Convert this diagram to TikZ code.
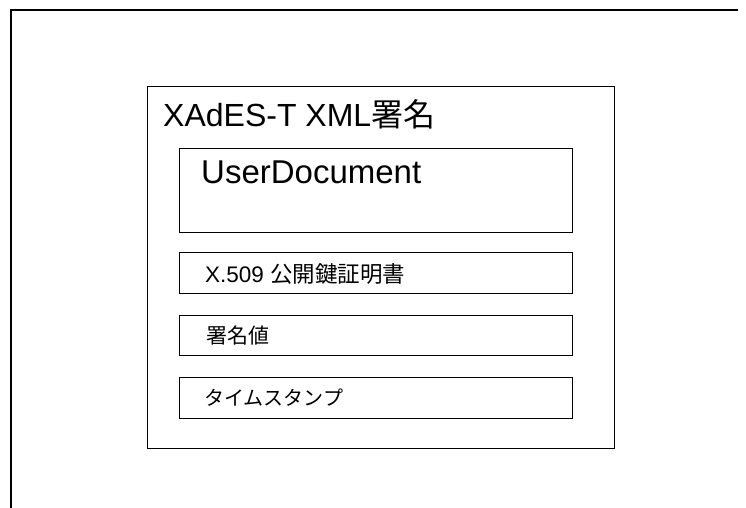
\documentclass[tikz,border=0pt]{standalone}
\usepackage{fontspec}
\setmainfont{Liberation Sans}
\newfontfamily\jp{Noto Sans CJK JP}
\begin{document}
\begin{tikzpicture}[x=1pt,y=-1pt,
  frame/.style={draw=black, line width=1.2pt},
  inbox/.style={draw=black, line width=1.1pt, anchor=north west, inner sep=0pt},
  lbl/.style={anchor=base west, inner sep=0pt},
  small/.style={lbl, font=\fontsize{21}{24}\selectfont}]
\useasboundingbox (0,0) rectangle (746,508);
% outer partial frame
\coordinate (o1) at (11,508);
\coordinate (o2) at (11,10);
\coordinate (o3) at (738,10);
\draw[frame] (o1) -- (o2) -- (o3);
% main box
\node[inbox, line width=1.2pt, minimum width=467pt, minimum height=362pt] (main) at (147,86) {};
\node[lbl, font=\fontsize{32}{36}\selectfont] (title) at (163,126) {XAdES-T XML{\jp 署名}};
% inner boxes
\node[inbox, minimum width=393pt, minimum height=84pt] (ud) at (179,148) {};
\node[lbl, font=\fontsize{33}{38}\selectfont] (udt) at (201,183) {UserDocument};
\node[inbox, minimum width=393pt, minimum height=41pt] (cert) at (179,252) {};
\node[small, font=\fontsize{22.5}{26}\selectfont] (certt) at (205,282) {X.509 {\jp 公開鍵証明書}};
\node[inbox, minimum width=393pt, minimum height=40pt] (sig) at (179,315) {};
\node[small] (sigt) at (206,343) {\jp 署名値};
\node[inbox, minimum width=393pt, minimum height=41pt] (ts) at (179,377) {};
\node[small, font=\fontsize{20}{24}\selectfont] (tst) at (204,405) {\jp タイムスタンプ};
\end{tikzpicture}
\end{document}
